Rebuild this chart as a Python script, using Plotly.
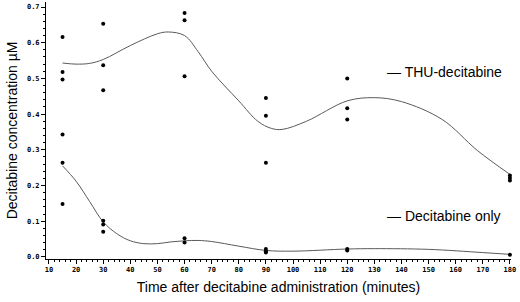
import plotly.graph_objects as go

# Observed data points
thu_t = [15, 15, 15, 15, 30, 30, 30, 60, 60, 60, 90, 90, 90, 120, 120, 120, 180, 180, 180]
thu_c = [0.616, 0.518, 0.497, 0.343, 0.653, 0.537, 0.467, 0.683, 0.663, 0.506,
         0.445, 0.395, 0.264, 0.500, 0.416, 0.385, 0.228, 0.221, 0.214]

dec_t = [15, 15, 30, 30, 30, 60, 60, 90, 90, 90, 120, 120, 180]
dec_c = [0.264, 0.148, 0.101, 0.091, 0.070, 0.052, 0.040, 0.022, 0.016, 0.012, 0.022, 0.018, 0.006]

# Fitted smooth curves
thu_fit_t = [15, 20, 25, 30, 40, 50, 54, 60, 65, 70, 80, 87, 92, 96, 105, 120, 130, 140, 155, 168, 180]
thu_fit_c = [0.543, 0.540, 0.542, 0.553, 0.592, 0.625, 0.630, 0.620, 0.575, 0.520, 0.437, 0.380, 0.360, 0.357, 0.380, 0.437, 0.446, 0.435, 0.385, 0.298, 0.231]

dec_fit_t = [15, 20, 25, 30, 35, 40, 45, 50, 55, 60, 65, 70, 80, 90, 100, 120, 130, 150, 170, 180]
dec_fit_c = [0.255, 0.212, 0.155, 0.098, 0.065, 0.045, 0.037, 0.037, 0.042, 0.045, 0.046, 0.043, 0.030, 0.018, 0.016, 0.022, 0.023, 0.021, 0.012, 0.007]

x_ticks = list(range(10, 181, 10))
y_ticks = [0.0, 0.1, 0.2, 0.3, 0.4, 0.5, 0.6, 0.7]

line_color = "#5a5a5a"

fig = go.Figure()
fig.add_trace(go.Scatter(x=thu_fit_t, y=thu_fit_c, mode="lines", line=dict(color=line_color, width=1, shape="spline", smoothing=1.0), hoverinfo="skip"))
fig.add_trace(go.Scatter(x=dec_fit_t, y=dec_fit_c, mode="lines", line=dict(color=line_color, width=1, shape="spline", smoothing=1.0), hoverinfo="skip"))
fig.add_trace(go.Scatter(x=thu_t, y=thu_c, mode="markers", marker=dict(color="black", size=4), cliponaxis=False))
fig.add_trace(go.Scatter(x=dec_t, y=dec_c, mode="markers", marker=dict(color="black", size=4), cliponaxis=False))

tickfont = dict(family="DejaVu Sans Mono", size=7, color="black", weight="bold")

fig.update_layout(
    width=520, height=302,
    margin=dict(l=46, r=9, t=2, b=43),
    plot_bgcolor="white", paper_bgcolor="white",
    showlegend=False,
    xaxis=dict(
        range=[8.9, 180.4], tickvals=x_ticks, ticktext=[str(v) for v in x_ticks],
        showgrid=False, zeroline=False, showline=True, linecolor="black", linewidth=1,
        ticks="outside", ticklen=4, tickcolor="black", tickfont=tickfont,
        minor=dict(dtick=2, tick0=10, ticks="outside", ticklen=2, tickcolor="black", showgrid=False),
        title=dict(text="Time after decitabine administration (minutes)", font=dict(family="Liberation Sans", size=14, color="black"), standoff=8),
    ),
    yaxis=dict(
        range=[-0.006, 0.714], tickvals=y_ticks, ticktext=["%.1f" % v for v in y_ticks],
        showgrid=False, zeroline=False, showline=True, linecolor="black", linewidth=1,
        ticks="outside", ticklen=4, tickcolor="black", tickfont=tickfont,
        minor=dict(dtick=0.02, tick0=0, ticks="outside", ticklen=2, tickcolor="black", showgrid=False),
        title=dict(text="Decitabine concentration µM", font=dict(family="Liberation Sans", size=14, color="black"), standoff=6),
    ),
)

fig.add_annotation(x=0.73, y=0.728, xref="paper", yref="paper", xanchor="left", yanchor="middle",
                   text="— THU-decitabine", showarrow=False, font=dict(family="Liberation Sans", size=14, color="black"))
fig.add_annotation(x=0.73, y=0.167, xref="paper", yref="paper", xanchor="left", yanchor="middle",
                   text="— Decitabine only", showarrow=False, font=dict(family="Liberation Sans", size=14, color="black"))

fig.write_html("out.html", config={"displayModeBar": False},
               post_script="document.body.style.margin='0';document.body.style.overflow='hidden';")
